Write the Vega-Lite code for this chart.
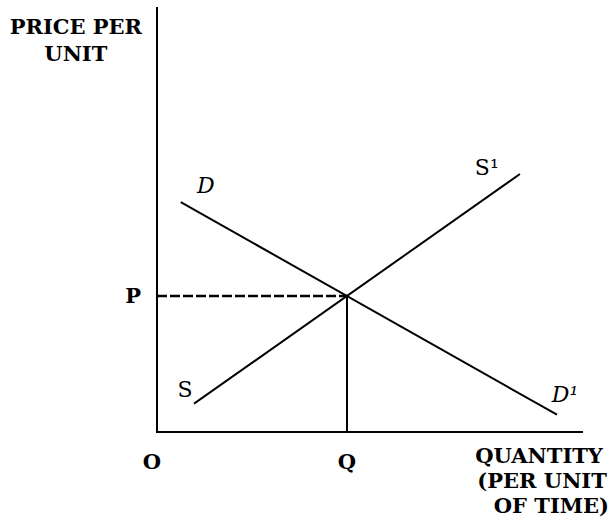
{
  "$schema": "https://vega.github.io/schema/vega-lite/v6.json",
  "width": 425,
  "height": 424,
  "autosize": {"type": "none"},
  "padding": {"left": 157, "top": 8, "right": 32, "bottom": 87},
  "background": "white",
  "config": {"view": {"stroke": null}},
  "datasets": {
    "lines": [
      {"name": "price axis", "x": 0, "y": 0, "x2": 0, "y2": 100, "kind": "solid"},
      {"name": "quantity axis", "x": 0, "y": 0, "x2": 100, "y2": 0, "kind": "solid"},
      {"name": "demand D-D1", "x": 5.8, "y": 54.1, "x2": 93.9, "y2": 4.2, "kind": "solid"},
      {"name": "supply S-S1", "x": 8.9, "y": 6.8, "x2": 85.2, "y2": 60.7, "kind": "solid"},
      {"name": "Q drop", "x": 44.7, "y": 0, "x2": 44.7, "y2": 32.1, "kind": "solid"},
      {"name": "P guide", "x": 0, "y": 32.1, "x2": 44.7, "y2": 32.1, "kind": "dashed"}
    ],
    "labels": [
      {"text": "PRICE PER", "x": -19.1, "y": 95.3, "group": "axis"},
      {"text": "UNIT", "x": -19.1, "y": 88.9, "group": "axis"},
      {"text": "P", "x": -5.6, "y": 31.8, "group": "axis"},
      {"text": "O", "x": -1.2, "y": -7.3, "group": "axis"},
      {"text": "Q", "x": 44.7, "y": -7.3, "group": "axis"},
      {"text": "QUANTITY", "x": 89.9, "y": -5.9, "group": "axis"},
      {"text": "(PER UNIT", "x": 90.6, "y": -11.8, "group": "axis"},
      {"text": "OF TIME)", "x": 92.8, "y": -17.7, "group": "axis"},
      {"text": "D", "x": 11.5, "y": 58.0, "group": "italic"},
      {"text": "D¹", "x": 96.0, "y": 8.7, "group": "italic"},
      {"text": "S", "x": 6.6, "y": 9.9, "group": "roman"},
      {"text": "S¹", "x": 77.6, "y": 62.3, "group": "roman"}
    ]
  },
  "layer": [
    {
      "data": {"name": "lines"},
      "transform": [{"filter": "datum.kind === 'solid'"}],
      "mark": {"type": "rule", "color": "black", "strokeWidth": 2, "strokeCap": "square"},
      "encoding": {
        "x": {"field": "x", "type": "quantitative", "scale": {"domain": [0, 100], "nice": false}, "axis": null},
        "y": {"field": "y", "type": "quantitative", "scale": {"domain": [0, 100], "nice": false}, "axis": null},
        "x2": {"field": "x2"},
        "y2": {"field": "y2"}
      }
    },
    {
      "data": {"name": "lines"},
      "transform": [{"filter": "datum.kind === 'dashed'"}],
      "mark": {"type": "rule", "color": "black", "strokeWidth": 2.5, "strokeDash": [10, 3]},
      "encoding": {
        "x": {"field": "x", "type": "quantitative"},
        "y": {"field": "y", "type": "quantitative"},
        "x2": {"field": "x2"},
        "y2": {"field": "y2"}
      }
    },
    {
      "data": {"name": "labels"},
      "transform": [{"filter": "datum.group === 'axis'"}],
      "mark": {"type": "text", "font": "DejaVu Serif", "fontWeight": "bold", "fontSize": 21, "align": "center", "baseline": "middle", "color": "black"},
      "encoding": {
        "x": {"field": "x", "type": "quantitative"},
        "y": {"field": "y", "type": "quantitative"},
        "text": {"field": "text"}
      }
    },
    {
      "data": {"name": "labels"},
      "transform": [{"filter": "datum.group === 'italic'"}],
      "mark": {"type": "text", "font": "DejaVu Serif", "fontStyle": "italic", "fontSize": 22, "align": "center", "baseline": "middle", "color": "black"},
      "encoding": {
        "x": {"field": "x", "type": "quantitative"},
        "y": {"field": "y", "type": "quantitative"},
        "text": {"field": "text"}
      }
    },
    {
      "data": {"name": "labels"},
      "transform": [{"filter": "datum.group === 'roman'"}],
      "mark": {"type": "text", "font": "DejaVu Serif", "fontSize": 22, "align": "center", "baseline": "middle", "color": "black"},
      "encoding": {
        "x": {"field": "x", "type": "quantitative"},
        "y": {"field": "y", "type": "quantitative"},
        "text": {"field": "text"}
      }
    }
  ]
}
